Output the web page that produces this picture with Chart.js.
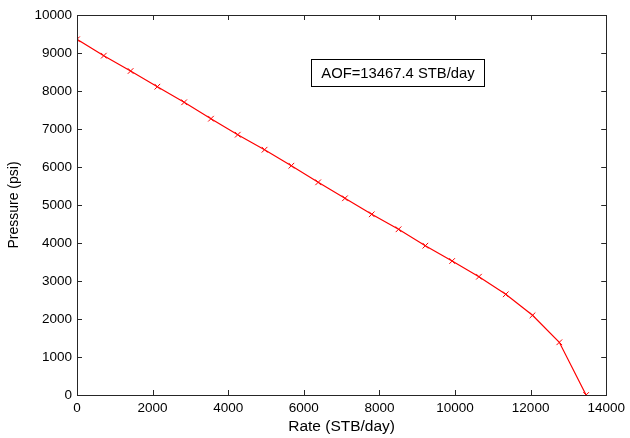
<!DOCTYPE html>
<html>
<head>
<meta charset="utf-8">
<script src="https://cdn.jsdelivr.net/npm/chart.js@4/dist/chart.umd.min.js"></script>
<style>
  html, body { margin: 0; padding: 0; background: #fff; }
  #wrap { width: 630px; height: 438px; position: relative; }
</style>
</head>
<body>
<div id="wrap"><canvas id="iprChart"></canvas></div>
<script>
// IPR curve
const rates = [0, 709, 1418, 2126, 2835, 3544, 4253, 4962, 5671, 6380,
  7088, 7797, 8506, 9215, 9924, 10633, 11342, 12050, 12759, 13467.4];
const pressures = [9360, 8930, 8526, 8113, 7703, 7271, 6850, 6455, 6034, 5597,
  5176, 4755, 4361, 3929, 3526, 3113, 2650, 2097, 1387, 0];
const xTicks = [0, 2000, 4000, 6000, 8000, 10000, 12000, 14000];
const yTicks = [0, 1000, 2000, 3000, 4000, 5000, 6000, 7000, 8000, 9000, 10000];
const aofLabel = "AOF=13467.4 STB/day";
const aofBox = { x0: 6196, x1: 10760, y0: 8132, y1: 8842 };

const axisColor = "#262626";
const fontFam = "'Liberation Sans', Arial, sans-serif";

// MATLAB style box with inward ticks plus the AOF text box
const boxPlugin = {
  id: "matlabBox",
  afterDraw(chart) {
    const { ctx, chartArea: a, scales } = chart;
    const xs = scales.x, ys = scales.y;
    ctx.save();
    ctx.strokeStyle = axisColor;
    ctx.lineWidth = 1;
    ctx.strokeRect(Math.round(a.left) + 0.5, Math.round(a.top) + 0.5,
      Math.round(a.right - a.left), Math.round(a.bottom - a.top));
    const t = 5;
    ctx.beginPath();
    xTicks.forEach(v => {
      const px = Math.round(xs.getPixelForValue(v)) + 0.5;
      ctx.moveTo(px, a.bottom); ctx.lineTo(px, a.bottom - t);
      ctx.moveTo(px, a.top); ctx.lineTo(px, a.top + t);
    });
    yTicks.forEach(v => {
      const py = Math.round(ys.getPixelForValue(v)) + 0.5;
      ctx.moveTo(a.left, py); ctx.lineTo(a.left + t, py);
      ctx.moveTo(a.right, py); ctx.lineTo(a.right - t, py);
    });
    ctx.stroke();

    // annotation
    const bx0 = Math.round(xs.getPixelForValue(aofBox.x0)) + 0.5;
    const bx1 = Math.round(xs.getPixelForValue(aofBox.x1)) + 0.5;
    const by0 = Math.round(ys.getPixelForValue(aofBox.y1)) + 0.5;
    const by1 = Math.round(ys.getPixelForValue(aofBox.y0)) + 0.5;
    ctx.fillStyle = "#fff";
    ctx.fillRect(bx0, by0, bx1 - bx0, by1 - by0);
    ctx.strokeStyle = "#000";
    ctx.strokeRect(bx0, by0, bx1 - bx0, by1 - by0);
    ctx.fillStyle = "#000";
    ctx.font = "14.8px " + fontFam;
    ctx.textAlign = "center";
    ctx.textBaseline = "middle";
    ctx.fillText(aofLabel, (bx0 + bx1) / 2, (by0 + by1) / 2 + 1);
    ctx.restore();
  }
};

const plain = v => String(v);

new Chart(document.getElementById("iprChart"), {
  type: "scatter",
  data: {
    datasets: [{
      data: rates.map((r, i) => ({ x: r, y: pressures[i] })),
      showLine: true,
      borderColor: "#ff0000",
      backgroundColor: "#ff0000",
      borderWidth: 1.2,
      pointStyle: "crossRot",
      pointRadius: 4,
      pointBorderWidth: 1,
      pointBorderColor: "#ff0000",
      tension: 0
    }]
  },
  options: {
    responsive: true,
    maintainAspectRatio: false,
    animation: false,
    events: [],
    layout: { padding: { top: 15, right: 23, left: 6, bottom: 0 } },
    plugins: { legend: { display: false }, tooltip: { enabled: false } },
    scales: {
      x: {
        type: "linear",
        min: 0, max: 14000,
        afterBuildTicks: s => { s.ticks = xTicks.map(v => ({ value: v })); },
        afterFit: s => { s.height = 43; },
        grid: { display: false, drawTicks: false },
        border: { display: false },
        ticks: { color: "#000", font: { family: fontFam, size: 13.5 }, padding: 5,
          maxRotation: 0, callback: plain },
        title: { display: true, text: "Rate (STB/day)", color: "#000",
          font: { family: fontFam, size: 15.5 }, padding: { top: 0, bottom: 2 } }
      },
      y: {
        type: "linear",
        min: 0, max: 10000,
        afterBuildTicks: s => { s.ticks = yTicks.map(v => ({ value: v })); },
        afterFit: s => { s.width = 71; },
        grid: { display: false, drawTicks: false },
        border: { display: false },
        ticks: { color: "#000", font: { family: fontFam, size: 13.5 }, padding: 5,
          callback: plain },
        title: { display: true, text: "Pressure (psi)", color: "#000",
          font: { family: fontFam, size: 14 }, padding: { top: 0, bottom: 0 } }
      }
    }
  },
  plugins: [boxPlugin]
});
</script>
</body>
</html>
